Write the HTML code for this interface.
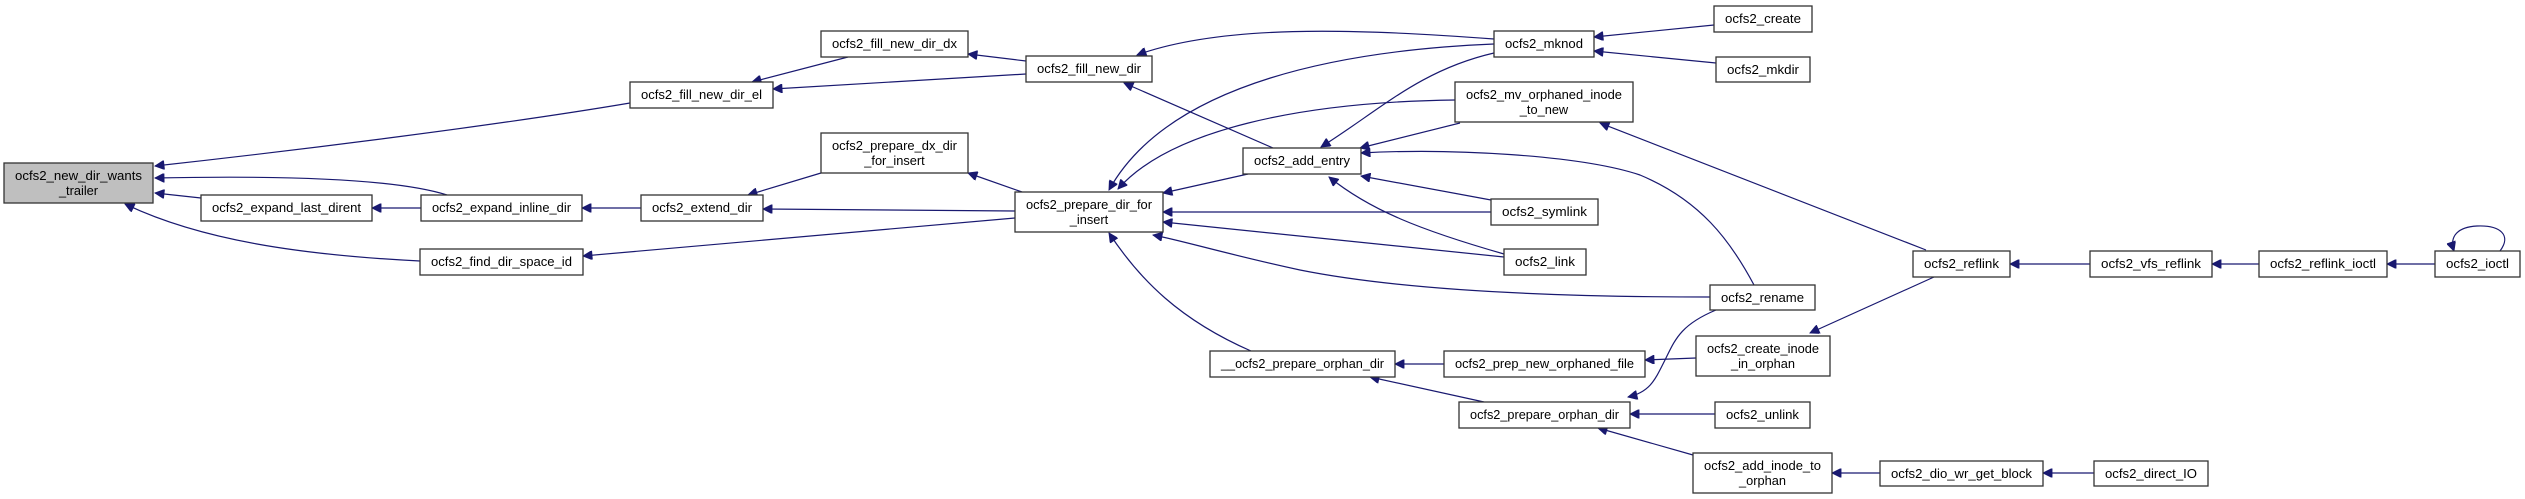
<!DOCTYPE html>
<html><head><meta charset="utf-8"><style>
html,body{margin:0;padding:0;background:#fff;}
svg{display:block}
text{font-family:"Liberation Sans",sans-serif;font-size:12.8px;fill:#000;text-anchor:middle}
.n{fill:#fff;stroke:#333;stroke-width:1.3}
.e{fill:none;stroke:#191970;stroke-width:1.2}
</style></head><body>
<svg width="2525" height="499" viewBox="0 0 2525 499">
<defs><marker id="a" viewBox="0 0 10 10" refX="10" refY="5" markerWidth="12" markerHeight="9" markerUnits="userSpaceOnUse" orient="auto"><path d="M0,0 L10,5 L0,10 z" fill="#191970" stroke="#191970"/></marker></defs>
<g class="e" marker-end="url(#a)">
<path d="M630,103 C500,125 300,150 155,166"/>
<path d="M447,195 C400,180 300,175 155,178"/>
<path d="M201,198 L155,193"/>
<path d="M420,261 C300,255 200,240 125,204"/>
<path d="M421,208 L372,208"/>
<path d="M641,208 L582,208"/>
<path d="M848,57 L752,82"/>
<path d="M1026,74 L773,89"/>
<path d="M1026,61 L968,54"/>
<path d="M821,173 L748,195"/>
<path d="M1015,211 L763,209"/>
<path d="M1015,218 L583,256"/>
<path d="M1022,192 L968,173"/>
<path d="M1494,39 C1350,28 1220,25 1137,55"/>
<path d="M1273,148 L1124,83"/>
<path d="M1494,44 C1350,50 1170,80 1109,190"/>
<path d="M1455,100 C1300,102 1170,130 1118,189"/>
<path d="M1494,53 C1420,70 1380,110 1321,147"/>
<path d="M1460,123 L1360,148"/>
<path d="M1754,285 C1730,240 1700,200 1640,175 C1580,155 1450,148 1361,153"/>
<path d="M1491,200 L1361,176"/>
<path d="M1504,254 C1420,230 1370,210 1329,177"/>
<path d="M1248,174 L1163,193"/>
<path d="M1491,212 L1163,212"/>
<path d="M1504,257 L1163,222"/>
<path d="M1710,297 C1550,297 1400,290 1300,270 C1230,255 1180,240 1153,235"/>
<path d="M1251,351 C1180,320 1140,280 1109,233"/>
<path d="M1444,364 L1395,364"/>
<path d="M1484,402 L1370,377"/>
<path d="M1696,358 L1645,360"/>
<path d="M1716,310 C1680,325 1675,340 1665,360 C1655,380 1650,392 1628,397"/>
<path d="M1715,414 L1630,414"/>
<path d="M1693,455 L1598,428"/>
<path d="M1926,250 L1600,123"/>
<path d="M1934,277 L1810,333"/>
<path d="M2090,264 L2010,264"/>
<path d="M2259,264 L2212,264"/>
<path d="M2435,264 L2387,264"/>
<path d="M2500,251 C2512,235 2500,225 2477,226 C2458,227 2449,236 2454,251"/>
<path d="M1880,473 L1832,473"/>
<path d="M2094,473 L2043,473"/>
<path d="M1714,25 L1594,37"/>
<path d="M1716,63 L1594,51"/>
</g>
<g>
<rect class="n" x="4" y="163" width="149" height="40" style="fill:#bfbfbf"/><text x="78.5" y="180" textLength="127" lengthAdjust="spacingAndGlyphs">ocfs2_new_dir_wants</text><text x="78.5" y="195">_trailer</text>
<rect class="n" x="630" y="82" width="143" height="26"/><text x="701.5" y="99" textLength="121" lengthAdjust="spacingAndGlyphs">ocfs2_fill_new_dir_el</text>
<rect class="n" x="201" y="195" width="171" height="26"/><text x="286.5" y="212" textLength="149" lengthAdjust="spacingAndGlyphs">ocfs2_expand_last_dirent</text>
<rect class="n" x="421" y="195" width="161" height="26"/><text x="501.5" y="212" textLength="139" lengthAdjust="spacingAndGlyphs">ocfs2_expand_inline_dir</text>
<rect class="n" x="641" y="195" width="122" height="26"/><text x="702" y="212" textLength="100" lengthAdjust="spacingAndGlyphs">ocfs2_extend_dir</text>
<rect class="n" x="420" y="249" width="163" height="26"/><text x="501.5" y="266" textLength="141" lengthAdjust="spacingAndGlyphs">ocfs2_find_dir_space_id</text>
<rect class="n" x="821" y="31" width="147" height="26"/><text x="894.5" y="48" textLength="125" lengthAdjust="spacingAndGlyphs">ocfs2_fill_new_dir_dx</text>
<rect class="n" x="1026" y="56" width="126" height="26"/><text x="1089" y="73" textLength="104" lengthAdjust="spacingAndGlyphs">ocfs2_fill_new_dir</text>
<rect class="n" x="821" y="133" width="147" height="40"/><text x="894.5" y="150" textLength="125" lengthAdjust="spacingAndGlyphs">ocfs2_prepare_dx_dir</text><text x="894.5" y="165">_for_insert</text>
<rect class="n" x="1015" y="192" width="148" height="40"/><text x="1089" y="209" textLength="126" lengthAdjust="spacingAndGlyphs">ocfs2_prepare_dir_for</text><text x="1089" y="224">_insert</text>
<rect class="n" x="1243" y="148" width="118" height="26"/><text x="1302" y="165" textLength="96" lengthAdjust="spacingAndGlyphs">ocfs2_add_entry</text>
<rect class="n" x="1494" y="31" width="100" height="26"/><text x="1544" y="48" textLength="78" lengthAdjust="spacingAndGlyphs">ocfs2_mknod</text>
<rect class="n" x="1455" y="82" width="178" height="40"/><text x="1544" y="99" textLength="156" lengthAdjust="spacingAndGlyphs">ocfs2_mv_orphaned_inode</text><text x="1544" y="114">_to_new</text>
<rect class="n" x="1491" y="199" width="107" height="26"/><text x="1544.5" y="216" textLength="85" lengthAdjust="spacingAndGlyphs">ocfs2_symlink</text>
<rect class="n" x="1504" y="249" width="82" height="26"/><text x="1545" y="266" textLength="60" lengthAdjust="spacingAndGlyphs">ocfs2_link</text>
<rect class="n" x="1210" y="351" width="185" height="26"/><text x="1302.5" y="368" textLength="163" lengthAdjust="spacingAndGlyphs">__ocfs2_prepare_orphan_dir</text>
<rect class="n" x="1444" y="351" width="201" height="26"/><text x="1544.5" y="368" textLength="179" lengthAdjust="spacingAndGlyphs">ocfs2_prep_new_orphaned_file</text>
<rect class="n" x="1459" y="402" width="171" height="26"/><text x="1544.5" y="419" textLength="149" lengthAdjust="spacingAndGlyphs">ocfs2_prepare_orphan_dir</text>
<rect class="n" x="1714" y="6" width="98" height="26"/><text x="1763" y="23" textLength="76" lengthAdjust="spacingAndGlyphs">ocfs2_create</text>
<rect class="n" x="1716" y="57" width="94" height="25"/><text x="1763" y="74" textLength="72" lengthAdjust="spacingAndGlyphs">ocfs2_mkdir</text>
<rect class="n" x="1913" y="251" width="97" height="26"/><text x="1961.5" y="268" textLength="75" lengthAdjust="spacingAndGlyphs">ocfs2_reflink</text>
<rect class="n" x="2090" y="251" width="122" height="26"/><text x="2151" y="268" textLength="100" lengthAdjust="spacingAndGlyphs">ocfs2_vfs_reflink</text>
<rect class="n" x="2259" y="251" width="128" height="26"/><text x="2323" y="268" textLength="106" lengthAdjust="spacingAndGlyphs">ocfs2_reflink_ioctl</text>
<rect class="n" x="2435" y="251" width="85" height="26"/><text x="2477.5" y="268" textLength="63" lengthAdjust="spacingAndGlyphs">ocfs2_ioctl</text>
<rect class="n" x="1710" y="285" width="105" height="25"/><text x="1762.5" y="302" textLength="83" lengthAdjust="spacingAndGlyphs">ocfs2_rename</text>
<rect class="n" x="1696" y="336" width="134" height="40"/><text x="1763" y="353" textLength="112" lengthAdjust="spacingAndGlyphs">ocfs2_create_inode</text><text x="1763" y="368">_in_orphan</text>
<rect class="n" x="1715" y="402" width="95" height="26"/><text x="1762.5" y="419" textLength="73" lengthAdjust="spacingAndGlyphs">ocfs2_unlink</text>
<rect class="n" x="1693" y="453" width="139" height="40"/><text x="1762.5" y="470" textLength="117" lengthAdjust="spacingAndGlyphs">ocfs2_add_inode_to</text><text x="1762.5" y="485">_orphan</text>
<rect class="n" x="1880" y="461" width="163" height="25"/><text x="1961.5" y="478" textLength="141" lengthAdjust="spacingAndGlyphs">ocfs2_dio_wr_get_block</text>
<rect class="n" x="2094" y="461" width="114" height="25"/><text x="2151" y="478" textLength="92" lengthAdjust="spacingAndGlyphs">ocfs2_direct_IO</text>
</g>
</svg>
</body></html>
